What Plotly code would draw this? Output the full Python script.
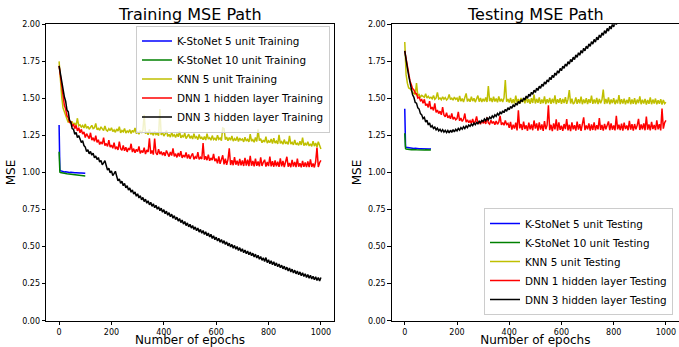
import plotly.graph_objects as go

# ---------------- data ----------------
epochs = list(range(0, 1001, 5))
short_epochs = [0, 1, 2, 3] + list(range(5, 101, 5))

# Training
train_kstonet5 = [1.320, 1.080, 1.030, 1.018,
                  1.012, 1.008, 1.006, 1.004, 1.005, 1.002, 1.003, 1.000, 1.001, 0.999,
                  1.000, 0.998, 0.999, 0.997, 0.998, 0.996, 0.997, 0.995, 0.996, 0.995]
train_kstonet10 = [1.140, 1.030, 1.008, 1.003,
                   1.000, 0.997, 0.995, 0.994, 0.993, 0.991, 0.990, 0.989, 0.988, 0.987,
                   0.986, 0.985, 0.984, 0.983, 0.982, 0.981, 0.980, 0.979, 0.978, 0.977]
train_knn5 = [
    1.750, 1.598, 1.512, 1.436, 1.409, 1.372, 1.361, 1.338, 1.352, 1.331,
    1.344, 1.322, 1.331, 1.318, 1.366, 1.315, 1.322, 1.306, 1.318, 1.301,
    1.327, 1.298, 1.311, 1.292, 1.305, 1.318, 1.296, 1.302, 1.331, 1.289,
    1.297, 1.285, 1.308, 1.291, 1.283, 1.314, 1.287, 1.279, 1.296, 1.283,
    1.302, 1.276, 1.288, 1.271, 1.294, 1.279, 1.309, 1.268, 1.283, 1.274,
    1.297, 1.266, 1.281, 1.272, 1.289, 1.263, 1.284, 1.271, 1.301, 1.262,
    1.276, 1.259, 1.283, 1.267, 1.284, 1.389, 1.262, 1.276, 1.255, 1.291,
    1.258, 1.269, 1.251, 1.278, 1.256, 1.264, 1.249, 1.428, 1.253, 1.272,
    1.246, 1.261, 1.284, 1.243, 1.258, 1.239, 1.271, 1.246, 1.255, 1.236,
    1.262, 1.241, 1.279, 1.233, 1.249, 1.238, 1.266, 1.229, 1.244, 1.258,
    1.231, 1.247, 1.226, 1.262, 1.233, 1.241, 1.222, 1.256, 1.228, 1.238,
    1.221, 1.243, 1.219, 1.262, 1.226, 1.235, 1.218, 1.249, 1.222, 1.231,
    1.216, 1.252, 1.224, 1.233, 1.215, 1.301, 1.296, 1.222, 1.239, 1.214,
    1.236, 1.218, 1.247, 1.212, 1.228, 1.216, 1.241, 1.209, 1.232, 1.218,
    1.226, 1.207, 1.238, 1.213, 1.224, 1.206, 1.259, 1.211, 1.222, 1.204,
    1.236, 1.209, 1.291, 1.215, 1.228, 1.201, 1.219, 1.205, 1.242, 1.198,
    1.213, 1.202, 1.226, 1.196, 1.231, 1.199, 1.211, 1.193, 1.254, 1.197,
    1.208, 1.191, 1.222, 1.194, 1.205, 1.189, 1.247, 1.192, 1.203, 1.186,
    1.219, 1.188, 1.198, 1.183, 1.211, 1.186, 1.236, 1.181, 1.196, 1.184,
    1.207, 1.179, 1.193, 1.176, 1.212, 1.178, 1.199, 1.172, 1.208, 1.175,
    1.158]
train_dnn1 = [
    1.720, 1.652, 1.566, 1.518, 1.455, 1.428, 1.383, 1.371, 1.338, 1.342,
    1.311, 1.327, 1.296, 1.318, 1.281, 1.302, 1.268, 1.291, 1.259, 1.274,
    1.236, 1.262, 1.241, 1.229, 1.268, 1.218, 1.235, 1.211, 1.248, 1.203,
    1.221, 1.189, 1.207, 1.192, 1.235, 1.181, 1.196, 1.176, 1.219, 1.172,
    1.185, 1.163, 1.201, 1.158, 1.174, 1.152, 1.208, 1.161, 1.149, 1.182,
    1.146, 1.171, 1.139, 1.165, 1.152, 1.194, 1.138, 1.161, 1.133, 1.156,
    1.141, 1.176, 1.129, 1.148, 1.135, 1.167, 1.124, 1.152, 1.138, 1.231,
    1.127, 1.148, 1.121, 1.229, 1.133, 1.119, 1.158, 1.124, 1.141, 1.116,
    1.137, 1.112, 1.149, 1.121, 1.107, 1.138, 1.114, 1.162, 1.109, 1.127,
    1.102, 1.131, 1.108, 1.144, 1.099, 1.118, 1.103, 1.136, 1.095, 1.121,
    1.092, 1.113, 1.129, 1.089, 1.107, 1.094, 1.138, 1.088, 1.102, 1.091,
    1.198, 1.086, 1.109, 1.083, 1.121, 1.079, 1.098, 1.084, 1.126, 1.077,
    1.093, 1.062, 1.108, 1.058, 1.081, 1.116, 1.055, 1.094, 1.052, 1.087,
    1.163, 1.051, 1.083, 1.049, 1.104, 1.053, 1.079, 1.046, 1.092, 1.048,
    1.081, 1.044, 1.099, 1.047, 1.087, 1.043, 1.112, 1.046, 1.078, 1.042,
    1.093, 1.045, 1.074, 1.041, 1.102, 1.044, 1.069, 1.086, 1.040, 1.071,
    1.043, 1.108, 1.041, 1.076, 1.039, 1.081, 1.042, 1.073, 1.038, 1.096,
    1.041, 1.078, 1.037, 1.067, 1.106, 1.039, 1.064, 1.036, 1.085, 1.040,
    1.072, 1.037, 1.093, 1.039, 1.062, 1.035, 1.079, 1.038, 1.068, 1.036,
    1.074, 1.036, 1.089, 1.038, 1.061, 1.034, 1.074, 1.168, 1.037, 1.066,
    1.082]
train_dnn3 = [
    1.720, 1.668, 1.603, 1.572, 1.512, 1.481, 1.422, 1.409, 1.352, 1.338,
    1.296, 1.291, 1.258, 1.271, 1.236, 1.249, 1.221, 1.203, 1.214, 1.182,
    1.172, 1.142, 1.153, 1.126, 1.142, 1.117, 1.131, 1.100, 1.111, 1.087,
    1.101, 1.070, 1.082, 1.052, 1.065, 1.080, 1.047, 1.016, 1.029, 0.998,
    1.011, 0.980, 0.992, 1.008, 0.975, 0.944, 0.957, 0.927, 0.941, 0.911,
    0.926, 0.896, 0.911, 0.881, 0.896, 0.867, 0.882, 0.854, 0.869, 0.840,
    0.856, 0.828, 0.844, 0.816, 0.832, 0.804, 0.820, 0.793, 0.809, 0.782,
    0.799, 0.772, 0.789, 0.762, 0.779, 0.752, 0.769, 0.742, 0.759, 0.732,
    0.749, 0.722, 0.739, 0.712, 0.729, 0.702, 0.719, 0.692, 0.709, 0.682,
    0.699, 0.672, 0.689, 0.662, 0.679, 0.652, 0.669, 0.642, 0.660, 0.633,
    0.651, 0.625, 0.642, 0.616, 0.633, 0.607, 0.625, 0.598, 0.616, 0.590,
    0.609, 0.582, 0.600, 0.573, 0.591, 0.565, 0.583, 0.555, 0.573, 0.546,
    0.564, 0.538, 0.556, 0.530, 0.548, 0.522, 0.540, 0.514, 0.532, 0.505,
    0.523, 0.497, 0.515, 0.489, 0.508, 0.482, 0.500, 0.474, 0.493, 0.467,
    0.485, 0.459, 0.477, 0.452, 0.470, 0.445, 0.463, 0.438, 0.456, 0.430,
    0.449, 0.423, 0.441, 0.415, 0.433, 0.407, 0.425, 0.399, 0.426, 0.392,
    0.411, 0.385, 0.404, 0.378, 0.397, 0.371, 0.390, 0.364, 0.382, 0.357,
    0.375, 0.350, 0.368, 0.343, 0.361, 0.336, 0.355, 0.329, 0.348, 0.322,
    0.341, 0.316, 0.335, 0.310, 0.329, 0.304, 0.323, 0.298, 0.317, 0.292,
    0.311, 0.286, 0.306, 0.281, 0.300, 0.276, 0.296, 0.272, 0.292, 0.268,
    0.292]

# Testing
test_kstonet5 = [1.430, 1.220, 1.185, 1.175,
                 1.170, 1.168, 1.165, 1.166, 1.163, 1.164, 1.162, 1.163, 1.161, 1.162,
                 1.160, 1.161, 1.160, 1.159, 1.161, 1.159, 1.160, 1.158, 1.159, 1.160]
test_kstonet10 = [1.265, 1.190, 1.170, 1.162,
                  1.158, 1.156, 1.155, 1.154, 1.153, 1.155, 1.152, 1.154, 1.153, 1.152,
                  1.154, 1.151, 1.153, 1.152, 1.151, 1.153, 1.152, 1.151, 1.152, 1.151]
test_knn5 = [
    1.880, 1.662, 1.603, 1.571, 1.566, 1.549, 1.541, 1.532, 1.527, 1.604,
    1.518, 1.526, 1.509, 1.521, 1.512, 1.507, 1.531, 1.503, 1.514, 1.501,
    1.508, 1.497, 1.519, 1.494, 1.503, 1.541, 1.496, 1.502, 1.491, 1.511,
    1.495, 1.506, 1.489, 1.498, 1.527, 1.492, 1.501, 1.488, 1.509, 1.494,
    1.502, 1.478, 1.516, 1.481, 1.499, 1.476, 1.506, 1.534, 1.479, 1.498,
    1.477, 1.512, 1.482, 1.501, 1.475, 1.497, 1.519, 1.478, 1.503, 1.476,
    1.498, 1.479, 1.507, 1.476, 1.584, 1.481, 1.502, 1.475, 1.511, 1.479,
    1.499, 1.474, 1.513, 1.479, 1.497, 1.476, 1.503, 1.624, 1.477, 1.496,
    1.472, 1.503, 1.468, 1.494, 1.466, 1.518, 1.471, 1.496, 1.464, 1.503,
    1.474, 1.498, 1.467, 1.512, 1.471, 1.494, 1.463, 1.501, 1.469, 1.525,
    1.466, 1.497, 1.471, 1.506, 1.463, 1.492, 1.468, 1.514, 1.462, 1.495,
    1.469, 1.503, 1.464, 1.497, 1.468, 1.521, 1.462, 1.494, 1.471, 1.502,
    1.463, 1.496, 1.469, 1.509, 1.464, 1.493, 1.556, 1.466, 1.498, 1.462,
    1.471, 1.507, 1.463, 1.495, 1.467, 1.512, 1.461, 1.493, 1.468, 1.501,
    1.462, 1.494, 1.469, 1.518, 1.463, 1.492, 1.466, 1.503, 1.461, 1.496,
    1.467, 1.491, 1.559, 1.462, 1.497, 1.466, 1.506, 1.461, 1.493, 1.468,
    1.502, 1.461, 1.491, 1.466, 1.523, 1.462, 1.495, 1.465, 1.498, 1.460,
    1.490, 1.467, 1.509, 1.461, 1.493, 1.464, 1.501, 1.460, 1.492, 1.468,
    1.514, 1.461, 1.491, 1.465, 1.497, 1.459, 1.489, 1.463, 1.506, 1.461,
    1.492, 1.466, 1.499, 1.460, 1.488, 1.464, 1.495, 1.459, 1.490, 1.465,
    1.474]
test_dnn1 = [
    1.820, 1.771, 1.702, 1.655, 1.618, 1.594, 1.566, 1.557, 1.535, 1.532,
    1.503, 1.509, 1.484, 1.492, 1.468, 1.494, 1.452, 1.463, 1.439, 1.481,
    1.428, 1.441, 1.419, 1.466, 1.405, 1.421, 1.398, 1.414, 1.389, 1.442,
    1.388, 1.376, 1.404, 1.369, 1.381, 1.363, 1.398, 1.359, 1.373, 1.356,
    1.364, 1.409, 1.349, 1.367, 1.345, 1.359, 1.398, 1.339, 1.356, 1.336,
    1.349, 1.332, 1.361, 1.329, 1.345, 1.379, 1.331, 1.342, 1.326, 1.353,
    1.332, 1.349, 1.328, 1.371, 1.335, 1.326, 1.352, 1.331, 1.344, 1.323,
    1.347, 1.325, 1.339, 1.382, 1.322, 1.336, 1.319, 1.351, 1.324, 1.332,
    1.302, 1.341, 1.289, 1.323, 1.296, 1.336, 1.284, 1.419, 1.298, 1.327,
    1.287, 1.343, 1.293, 1.318, 1.282, 1.336, 1.291, 1.324, 1.285, 1.351,
    1.296, 1.331, 1.283, 1.339, 1.289, 1.325, 1.281, 1.347, 1.292, 1.319,
    1.454, 1.286, 1.322, 1.279, 1.331, 1.291, 1.358, 1.282, 1.338, 1.288,
    1.316, 1.281, 1.327, 1.293, 1.361, 1.284, 1.322, 1.279, 1.339, 1.291,
    1.319, 1.283, 1.343, 1.289, 1.326, 1.281, 1.333, 1.372, 1.286, 1.318,
    1.292, 1.331, 1.282, 1.324, 1.287, 1.339, 1.284, 1.319, 1.291, 1.367,
    1.288, 1.321, 1.283, 1.328, 1.292, 1.316, 1.345, 1.285, 1.331, 1.289,
    1.318, 1.284, 1.383, 1.291, 1.322, 1.286, 1.329, 1.282, 1.336, 1.293,
    1.317, 1.285, 1.349, 1.289, 1.326, 1.283, 1.327, 1.291, 1.318, 1.362,
    1.287, 1.324, 1.292, 1.331, 1.285, 1.378, 1.289, 1.324, 1.284, 1.341,
    1.293, 1.321, 1.286, 1.352, 1.291, 1.326, 1.284, 1.431, 1.296, 1.336,
    1.352]
test_dnn3 = [
    1.820, 1.774, 1.706, 1.653, 1.598, 1.566, 1.524, 1.507, 1.473, 1.468,
    1.436, 1.428, 1.397, 1.389, 1.364, 1.372, 1.341, 1.353, 1.321, 1.334,
    1.305, 1.316, 1.297, 1.306, 1.288, 1.299, 1.281, 1.292, 1.276, 1.289,
    1.272, 1.284, 1.269, 1.283, 1.268, 1.285, 1.271, 1.289, 1.274, 1.291,
    1.281, 1.298, 1.286, 1.303, 1.292, 1.309, 1.297, 1.314, 1.303, 1.321,
    1.312, 1.327, 1.316, 1.333, 1.322, 1.338, 1.329, 1.345, 1.336, 1.351,
    1.344, 1.361, 1.349, 1.368, 1.356, 1.374, 1.363, 1.382, 1.371, 1.389,
    1.379, 1.398, 1.387, 1.407, 1.395, 1.416, 1.404, 1.426, 1.413, 1.437,
    1.423, 1.446, 1.433, 1.457, 1.443, 1.468, 1.454, 1.479, 1.466, 1.491,
    1.478, 1.503, 1.489, 1.516, 1.501, 1.528, 1.514, 1.541, 1.527, 1.555,
    1.540, 1.569, 1.554, 1.582, 1.568, 1.596, 1.582, 1.611, 1.597, 1.625,
    1.611, 1.642, 1.626, 1.656, 1.641, 1.671, 1.656, 1.686, 1.671, 1.702,
    1.687, 1.717, 1.703, 1.732, 1.717, 1.748, 1.732, 1.763, 1.747, 1.778,
    1.762, 1.793, 1.777, 1.808, 1.791, 1.823, 1.806, 1.838, 1.821, 1.853,
    1.836, 1.868, 1.851, 1.883, 1.866, 1.898, 1.880, 1.913, 1.895, 1.928,
    1.910, 1.942, 1.925, 1.957, 1.939, 1.972, 1.954, 1.987, 1.968, 2.002,
    1.983, 2.016, 1.997, 2.031, 2.012, 2.045, 2.026, 2.060, 2.041, 2.074,
    2.055, 2.089, 2.069, 2.103, 2.084, 2.118, 2.098, 2.132, 2.113, 2.146,
    2.127, 2.161, 2.141, 2.175, 2.155, 2.189, 2.169, 2.203, 2.183, 2.217,
    2.197, 2.231, 2.211, 2.245, 2.225, 2.259, 2.239, 2.273, 2.253, 2.287,
    2.275]

y_ticks = [0.0, 0.25, 0.5, 0.75, 1.0, 1.25, 1.5, 1.75, 2.0]
x_ticks = [0, 200, 400, 600, 800, 1000]

for s in (train_knn5, train_dnn1, train_dnn3, test_knn5, test_dnn1, test_dnn3):
    assert len(s) == len(epochs), len(s)
for s in (train_kstonet5, train_kstonet10, test_kstonet5, test_kstonet10):
    assert len(s) == len(short_epochs), len(s)

# ---------------- figure ----------------
W, H = 679, 347


def px(x):
    return x / W


def py(y):
    return 1 - y / H


FONT = "DejaVu Sans"
C_BLUE, C_GREEN, C_YEL, C_RED, C_BLACK = "#0000ff", "#008000", "#bfbf00", "#ff0000", "#000000"
LW = 1.5

fig = go.Figure()

train_series = [
    ("K-StoNet 5 unit Training", short_epochs, train_kstonet5, C_BLUE),
    ("K-StoNet 10 unit Training", short_epochs, train_kstonet10, C_GREEN),
    ("KNN 5 unit Training", epochs, train_knn5, C_YEL),
    ("DNN 1 hidden layer Training", epochs, train_dnn1, C_RED),
    ("DNN 3 hidden layer Training", epochs, train_dnn3, C_BLACK),
]
test_series = [
    ("K-StoNet 5 unit Testing", short_epochs, test_kstonet5, C_BLUE),
    ("K-StoNet 10 unit Testing", short_epochs, test_kstonet10, C_GREEN),
    ("KNN 5 unit Testing", epochs, test_knn5, C_YEL),
    ("DNN 1 hidden layer Testing", epochs, test_dnn1, C_RED),
    ("DNN 3 hidden layer Testing", epochs, test_dnn3, C_BLACK),
]

for name, xs, ys, col in train_series:
    fig.add_trace(go.Scatter(x=xs, y=ys, mode="lines", name=name,
                             line=dict(color=col, width=LW),
                             xaxis="x", yaxis="y", legend="legend"))
for name, xs, ys, col in test_series:
    fig.add_trace(go.Scatter(x=xs, y=ys, mode="lines", name=name,
                             line=dict(color=col, width=LW),
                             xaxis="x2", yaxis="y2", legend="legend2"))

x1_dom = [px(46), px(334)]
x2_dom = [px(391.7), 1.0]
y_dom = [py(320.7), py(24.3)]

axis_common = dict(
    showline=True, mirror=True, linecolor="#000000", linewidth=0.8,
    ticks="outside", ticklen=3.5, tickwidth=0.8, tickcolor="#000000",
    showgrid=False, zeroline=False, automargin=False,
    tickfont=dict(family=FONT, size=8, color="#000000"),
)
xtitle = dict(text="Number of epochs", font=dict(family=FONT, size=12), standoff=8)
ytitle = dict(text="MSE", font=dict(family=FONT, size=12), standoff=3)

legend_common = dict(
    bgcolor="rgba(255,255,255,0.8)", bordercolor="#cccccc", borderwidth=1,
    font=dict(family=FONT, size=10.4, color="#000000"),
    tracegroupgap=0, itemwidth=30,
)

fig.update_layout(
    width=W, height=H, autosize=False,
    margin=dict(l=0, r=0, t=0, b=0),
    paper_bgcolor="white", plot_bgcolor="white",
    font=dict(family=FONT, color="#000000"),
    xaxis=dict(domain=x1_dom, anchor="y", range=[-50, 1050], tickvals=x_ticks,
               title=xtitle, **axis_common),
    yaxis=dict(domain=y_dom, anchor="x", range=[0, 2], tickvals=y_ticks, tickformat=".2f",
               title=ytitle, **axis_common),
    xaxis2=dict(domain=x2_dom, anchor="y2", range=[-50, 1050], tickvals=x_ticks,
                title=xtitle, **axis_common),
    yaxis2=dict(domain=y_dom, anchor="x2", range=[0, 2], tickvals=y_ticks, tickformat=".2f",
                title=ytitle, **axis_common),
    legend=dict(x=px(330), y=py(25.5), xanchor="right", yanchor="top", **legend_common),
    legend2=dict(x=px(673), y=py(315), xanchor="right", yanchor="bottom", **legend_common),
    annotations=[
        dict(text="Training MSE Path", x=(x1_dom[0] + x1_dom[1]) / 2, y=py(15),
             xref="paper", yref="paper", xanchor="center", yanchor="middle",
             showarrow=False, font=dict(family=FONT, size=16, color="#000000")),
        dict(text="Testing MSE Path", x=(x2_dom[0] + x2_dom[1]) / 2, y=py(15),
             xref="paper", yref="paper", xanchor="center", yanchor="middle",
             showarrow=False, font=dict(family=FONT, size=16, color="#000000")),
    ],
)

# remove the default 8px page margin so the 679x347 figure fills the window exactly
fig.write_html("out.html",
               config={"displayModeBar": False},
               post_script="document.body.style.margin='0px';document.body.style.overflow='hidden';")
